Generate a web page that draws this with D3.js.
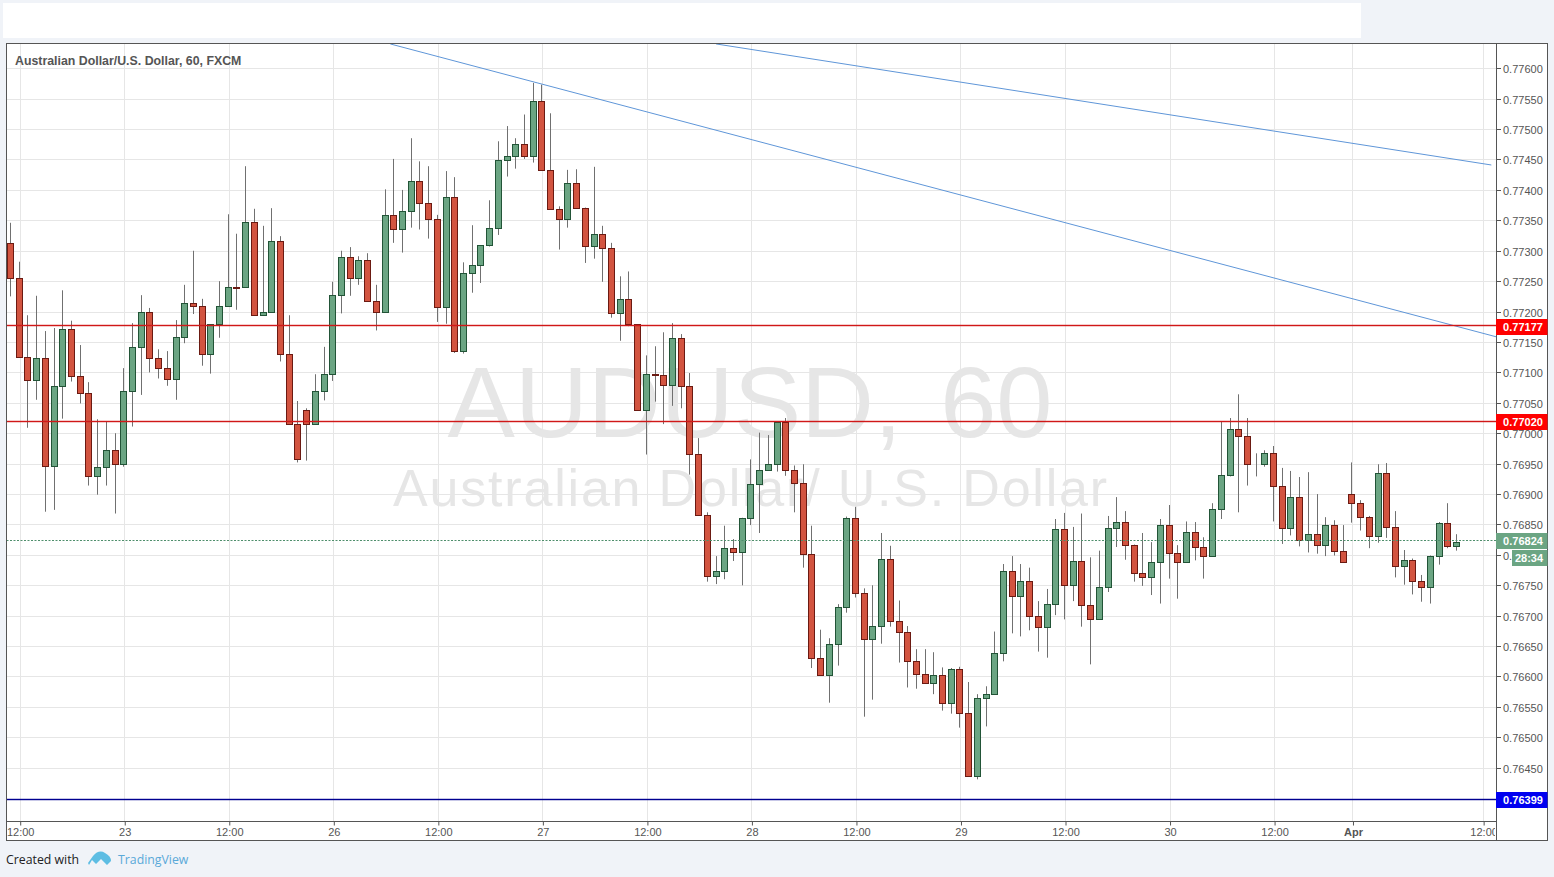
<!DOCTYPE html>
<html><head><meta charset="utf-8">
<script src="https://cdnjs.cloudflare.com/ajax/libs/d3/7.8.5/d3.min.js"></script>
<style>
html,body{margin:0;padding:0;background:#f0f3f8;overflow:hidden}
svg{display:block}
text{font-family:"Liberation Sans",Arial,sans-serif}
</style></head><body><div id="chart"></div>
<script>
// prices in 1/100000 of a US dollar
const opens=[77314,77257,77128,77089,77125,76948,77079,77173,77096,77068,
76931,76946,76975,76952,77071,77143,77201,77125,77110,77091,
77160,77216,77211,77133,77181,77212,77242,77242,77349,77197,
77201,77318,77133,77018,77041,77018,77071,77099,77230,77291,
77258,77286,77219,77201,77360,77337,77367,77416,77380,77354,
77209,77390,77138,77265,77278,77311,77340,77452,77457,77477,
77457,77549,77434,77370,77354,77414,77372,77310,77329,77307,
77199,77222,77181,77041,77099,77097,77082,77158,77079,76968,
76867,76768,76775,76813,76807,76863,76918,76941,76952,77020,
76941,76920,76803,76633,76605,76655,76716,76862,76740,76663,
76685,76795,76694,76675,76627,76607,76592,76604,76558,76614,
76542,76438,76566,76573,76640,76775,76734,76759,76701,76683,
76721,76844,76752,76792,76719,76696,76749,76846,76856,76818,
76772,76765,76791,76851,76805,76791,76839,76815,76801,76877,
76933,77009,76997,76951,76952,76969,76915,76846,76897,76826,
76836,76818,76851,76808,76902,76887,76864,76833,76936,76848,
76783,76793,76759,76749,76801,76854,76817];
const closes=[77257,77128,77089,77125,76948,77079,77173,77096,77068,76931,
76946,76975,76952,77071,77143,77201,77125,77110,77091,77160,
77216,77211,77133,77181,77212,77242,77241,77349,77197,77201,
77318,77133,77018,76959,77018,77071,77099,77230,77291,77258,
77286,77219,77201,77360,77337,77367,77416,77380,77354,77209,
77390,77138,77265,77278,77311,77340,77452,77457,77477,77457,
77549,77434,77370,77354,77414,77372,77310,77329,77307,77199,
77222,77181,77041,77099,77097,77082,77158,77079,76968,76867,
76768,76775,76813,76807,76863,76918,76941,76952,77020,76941,
76920,76803,76633,76605,76655,76716,76862,76740,76663,76685,
76795,76694,76675,76627,76607,76592,76604,76558,76614,76542,
76438,76566,76573,76640,76775,76734,76759,76701,76683,76721,
76844,76752,76792,76719,76696,76749,76846,76856,76818,76772,
76765,76791,76851,76805,76791,76839,76815,76801,76877,76933,
77009,76997,76951,76952,76969,76915,76846,76897,76826,76836,
76818,76851,76808,76791,76887,76864,76833,76936,76848,76783,
76793,76759,76749,76801,76854,76817,76824];
const highs=[77348,77284,77196,77228,77170,77175,77237,77187,77147,77086,
77025,77021,77002,77109,77183,77229,77208,77140,77137,77188,
77246,77302,77223,77181,77252,77362,77330,77441,77371,77343,
77372,77326,77196,77055,77043,77099,77144,77251,77302,77308,
77293,77298,77246,77403,77453,77402,77487,77449,77441,77361,
77433,77423,77283,77344,77311,77385,77482,77507,77487,77526,
77578,77575,77528,77375,77435,77436,77373,77440,77343,77315,
77260,77268,77181,77130,77145,77168,77183,77165,77101,76994,
76872,76800,76850,76828,76863,76959,77003,76999,77022,77027,
76949,76951,76850,76679,76665,76721,76865,76881,76747,76752,
76838,76817,76727,76685,76647,76647,76642,76617,76616,76618,
76593,76573,76586,76676,76787,76800,76787,76781,76726,76746,
76861,76871,76848,76870,76798,76809,76866,76897,76874,76819,
76838,76823,76861,76884,76818,76857,76856,76831,76887,77021,
77027,77066,77027,76969,76974,76981,76945,76940,76930,76938,
76902,76864,76859,76851,76954,76892,76866,76951,76953,76874,
76810,76796,76769,76801,76856,76887,76836];
const lows=[77227,77128,77011,77057,76873,76876,77026,77087,77051,76916,
76901,76916,76870,76947,77013,77065,77102,77092,77080,77057,
77150,77198,77113,77100,77159,77212,77205,77242,77197,77197,
77201,77120,77018,76954,76957,77018,77056,77088,77199,77228,
77246,77219,77171,77201,77315,77299,77340,77337,77322,77185,
77182,77134,77133,77233,77249,77309,77328,77424,77437,77453,
77447,77434,77370,77304,77340,77372,77282,77289,77251,77192,
77154,77178,77039,76967,77054,77017,77047,77043,76934,76867,
76758,76754,76762,76792,76752,76851,76838,76941,76939,76932,
76872,76781,76616,76603,76559,76620,76707,76732,76536,76564,
76656,76684,76625,76584,76582,76592,76573,76546,76541,76518,
76437,76433,76520,76573,76627,76673,76668,76678,76643,76633,
76703,76696,76726,76684,76622,76696,76741,76815,76794,76758,
76751,76736,76722,76763,76730,76789,76793,76763,76801,76861,
76931,76872,76916,76931,76947,76857,76820,76834,76816,76806,
76804,76800,76801,76791,76855,76842,76813,76822,76830,76765,
76753,76737,76725,76722,76786,76813,76809];
const timeTickIndex=[1,13,25,37,49,61,73,85,97,109,121,133,145,154,169];
const timeTickLabels=["12:00","23","12:00","26","12:00","27","12:00","28","12:00","29","12:00","30","12:00","Apr","12:00"];
const priceTicks=[77600,77550,77500,77450,77400,77350,77300,77250,77200,77150,77100,77050,77000,76950,76900,76850,76800,76750,76700,76650,76600,76550,76500,76450];
const redLevels=[77177,77020];
const blueLevel=76399;
const lastPrice=76824;
const countdown="28:34";
const trendLineA=[[43.6,77642],[170.7,77160]];
const trendLineB=[[81,77642],[170,77443]];

const W=1554,H=877, pLeft=6.5,pRight=1497,pTop=43.5,pBottom=821.5,outerR=1547.5,outerB=840.5;
const x=d3.scaleLinear().domain([0,166]).range([10.5,1456.5]);
const y=d3.scaleLinear().domain([77600,76450]).range([69.5,769]);   // candles, trend lines
const yGrid=y.copy().range([68.5,768]);                             // grid, ticks, level lines
const gridShift=0.5;
const fmt=v=>(v/100000).toFixed(5);
const snap=v=>Math.round(yGrid(v)-0.3)+0.5;
const tickFont='"Liberation Sans",Arial,sans-serif';

const svg=d3.select("#chart").append("svg").attr("width",W).attr("height",H);
svg.append("rect").attr("x",3).attr("y",3).attr("width",1358).attr("height",35).attr("fill","#fff");
svg.append("rect").attr("x",pLeft).attr("y",pTop).attr("width",outerR-pLeft).attr("height",outerB-pTop).attr("fill","#fff");
const defs=svg.append("defs");
defs.append("clipPath").attr("id","plot").append("rect").attr("x",pLeft).attr("y",pTop).attr("width",pRight-pLeft).attr("height",pBottom-pTop);
defs.append("clipPath").attr("id","timeclipx").append("rect").attr("x",pLeft).attr("y",0).attr("width",pRight-pLeft-2).attr("height",outerB-pBottom);

const plot=svg.append("g").attr("clip-path","url(#plot)");
const gridCol="#e6e6e6";
plot.selectAll(".gh").data(priceTicks).join("line").attr("class","gh").attr("x1",pLeft).attr("x2",pRight)
  .attr("y1",snap).attr("y2",snap).attr("stroke",gridCol);
plot.selectAll(".gv").data(timeTickIndex).join("line").attr("class","gv")
  .attr("x1",d=>Math.round(x(d)+gridShift)+0.5).attr("x2",d=>Math.round(x(d)+gridShift)+0.5)
  .attr("y1",pTop).attr("y2",pBottom).attr("stroke",gridCol);

// watermark
plot.append("text").attr("x",750).attr("y",437).attr("text-anchor","middle").attr("font-size",101).attr("word-spacing",10).attr("fill","#e6e6e6").text("AUDUSD, 60");
plot.append("text").attr("x",751).attr("y",506).attr("text-anchor","middle").attr("font-size",52).attr("letter-spacing",1.8).attr("fill","#e6e6e6").text("Australian Dollar/ U.S. Dollar");

// trend lines
const ln=d3.line().x(d=>x(d[0])).y(d=>y(d[1]));
[trendLineA,trendLineB].forEach(t=>plot.append("path").attr("d",ln(t)).attr("fill","none").attr("stroke","#5f96d8").attr("stroke-width",1));

// candles
const idx=d3.range(opens.length);
const px=i=>Math.round(x(i)-0.5)+0.5;
plot.selectAll(".wick").data(idx).join("line").attr("class","wick")
  .attr("x1",px).attr("x2",px).attr("y1",i=>y(highs[i])).attr("y2",i=>y(lows[i]))
  .attr("stroke","#707070").attr("stroke-width",1);
plot.selectAll(".body").data(idx).join("rect").attr("class","body")
  .attr("x",i=>px(i)-3).attr("width",6)
  .attr("y",i=>Math.round(y(Math.max(opens[i],closes[i])))+0.5)
  .attr("height",i=>Math.max(0,Math.round(y(Math.min(opens[i],closes[i])))-Math.round(y(Math.max(opens[i],closes[i])))))
  .attr("fill",i=>closes[i]<opens[i]?"#d25440":"#6ba583")
  .attr("stroke",i=>closes[i]<opens[i]?"#6b1a12":"#225437").attr("stroke-width",1);

// horizontal levels, each with a pale halo like the reference
const level=(v,col)=>{
  plot.append("line").attr("x1",pLeft).attr("x2",pRight).attr("y1",snap(v)).attr("y2",snap(v)).attr("stroke",col).attr("stroke-width",3).attr("stroke-opacity",0.22);
  plot.append("line").attr("x1",pLeft).attr("x2",pRight).attr("y1",snap(v)).attr("y2",snap(v)).attr("stroke",col);
};
redLevels.forEach(v=>level(v,"#d01818"));
level(blueLevel,"#000090");
plot.append("line").attr("x1",pLeft).attr("x2",pRight).attr("y1",snap(lastPrice)).attr("y2",snap(lastPrice))
  .attr("stroke","#4f8f6c").attr("stroke-dasharray","2 1.5");

// title
svg.append("text").attr("x",15).attr("y",64.5).attr("font-size",12.35).attr("font-weight","bold").attr("fill","#555").text("Australian Dollar/U.S. Dollar, 60, FXCM");

// price axis
const yAxis=d3.axisRight(yGrid).tickValues(priceTicks).tickFormat(fmt).tickSize(4).tickPadding(2);
const gy=svg.append("g").attr("transform",`translate(${pRight},0)`).call(yAxis);
gy.select(".domain").remove();
gy.selectAll(".tick").attr("transform",d=>`translate(0,${snap(d)})`);
gy.selectAll("text").attr("font-size",11).attr("fill","#555").attr("dy","0.42em").style("font-family",tickFont);
gy.selectAll("line").attr("stroke","#555");

// time axis
const xAxis=d3.axisBottom(d3.scaleLinear().domain(x.domain()).range(x.range().map(v=>v+gridShift+0.5)))
  .tickValues(timeTickIndex).tickFormat((d,i)=>timeTickLabels[i]).tickSize(4).tickPadding(2.7);
const gx=svg.append("g").attr("transform",`translate(0,${pBottom})`).attr("clip-path","url(#timeclipx)").call(xAxis);
gx.select(".domain").remove();
gx.selectAll("text").attr("font-size",11).attr("fill","#555").style("font-family",tickFont)
  .attr("font-weight",(d,i)=>timeTickLabels[i]==="Apr"?"bold":"normal");
gx.selectAll("line").attr("stroke","#555");

// frames
svg.append("rect").attr("x",pLeft).attr("y",pTop).attr("width",outerR-pLeft).attr("height",outerB-pTop).attr("fill","none").attr("stroke","#555");
svg.append("line").attr("x1",pRight-0.5).attr("x2",pRight-0.5).attr("y1",pTop).attr("y2",outerB).attr("stroke","#555");
svg.append("line").attr("x1",pLeft).attr("x2",pRight).attr("y1",pBottom).attr("y2",pBottom).attr("stroke","#555");

// price labels
const tag=(v,fill)=>{
  const c=Math.round(y(v)-0.1);
  svg.append("rect").attr("x",pRight-1).attr("y",c-8).attr("width",outerR-pRight+1).attr("height",16).attr("fill",fill);
  svg.append("text").attr("x",1523).attr("y",c+4).attr("text-anchor","middle").attr("font-size",11).attr("font-weight","bold").attr("fill","#fff").text(fmt(v));
};
redLevels.forEach(v=>tag(v,"#ff0000"));
tag(blueLevel,"#0000f0");
tag(lastPrice,"#6ba583");
const cy=Math.round(y(lastPrice)-0.1);
svg.append("rect").attr("x",1512).attr("y",cy+9).attr("width",outerR-1512).attr("height",16).attr("fill","#6ba583");
svg.append("text").attr("x",1529).attr("y",cy+21).attr("text-anchor","middle").attr("font-size",11).attr("font-weight","bold").attr("fill","#fff").text(countdown);

// credit
svg.append("text").attr("x",6).attr("y",864).attr("font-size",12.3).attr("fill","#222").style("font-family",'"Open Sans",sans-serif').text("Created with");
svg.append("path").attr("d","M88 863 L93 856 Q99 849 105 853 Q111 856 111 861 L107 865 L101 859 L96 864 L92 860 L89 865 Z").attr("fill","#5dbde3");
svg.append("text").attr("x",118).attr("y",864).attr("font-size",12.3).attr("fill","#5aa9d8").style("font-family",'"Open Sans",sans-serif').text("TradingView");
</script></body></html>
